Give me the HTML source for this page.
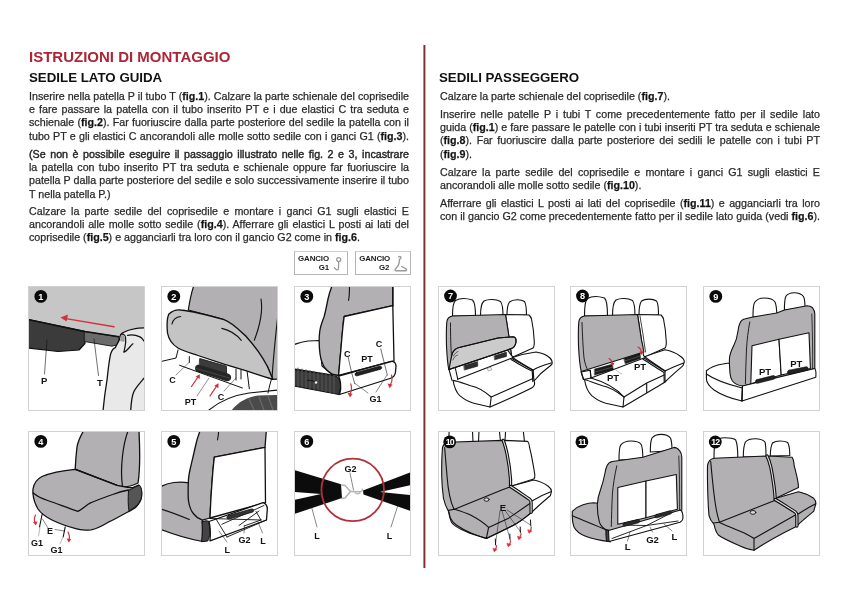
<!DOCTYPE html>
<html><head><meta charset="utf-8">
<style>
*{margin:0;padding:0;box-sizing:border-box}
html,body{width:848px;height:600px;background:#fff;overflow:hidden}
body{position:relative;font-family:"Liberation Sans",sans-serif;color:#333}
.h1{position:absolute;left:29px;top:49.2px;font-size:15px;line-height:15px;font-weight:bold;color:#ac2636;white-space:nowrap}
.h2{position:absolute;font-size:13.3px;line-height:13.3px;font-weight:bold;color:#111;white-space:nowrap}
.p{position:absolute;font-size:10.7px;line-height:13.2px;color:#2a2a2a}
.p div{text-align:justify;text-align-last:justify;white-space:nowrap}
.p div.l{text-align-last:left}
.p b{color:#111}
.vr{position:absolute;left:424px;top:45px;width:1px;height:523px;background:#7c2e33;box-shadow:-1px 0 0 #b08a86,1px 0 0 #e7a3aa}
.pan{position:absolute;width:117px;height:125px;border:1px solid #d2d2d2;overflow:hidden;background:#fff}
.pan svg{position:absolute;left:-1px;top:-1px;width:117px;height:125px}
.g{position:absolute;top:251px;height:24px;border:1px solid #b5b5b5;border-top:1.6px solid #cfcfcf;font-size:7.9px;line-height:8px;font-weight:bold;color:#1a1a1a}
.p,.h1,.h2,.pan,.g{will-change:transform}
.p{-webkit-text-stroke:0.25px #2a2a2a}
</style></head><body>
<div class="h1">ISTRUZIONI DI MONTAGGIO</div>
<div class="h2" style="left:29px;top:71.1px">SEDILE LATO GUIDA</div>
<div class="h2" style="left:439.2px;top:71.1px">SEDILI PASSEGGERO</div>

<div class="p" style="left:29px;top:89.7px;width:380px">
<div>Inserire nella patella P il tubo T (<b>fig.1</b>). Calzare la parte schienale del coprisedile</div>
<div>e fare passare la patella con il tubo inserito PT e i due elastici C tra seduta e</div>
<div>schienale (<b>fig.2</b>). Far fuoriuscire dalla parte posteriore del sedile la patella con il</div>
<div>tubo PT e gli elastici C ancorandoli alle molle sotto sedile con i ganci G1 (<b>fig.3</b>).</div>
</div>
<div class="p" style="left:29px;top:147.7px;width:380px">
<div style="-webkit-text-stroke:0.4px #222">(Se non è possibile eseguire il passaggio illustrato nelle fig. 2 e 3, incastrare</div>
<div>la patella con tubo inserito PT tra seduta e schienale oppure far fuoriuscire la</div>
<div>patella P dalla parte posteriore del sedile e solo successivamente inserire il tubo</div>
<div class="l">T nella patella P.)</div>
</div>
<div class="p" style="left:29px;top:205.1px;width:380px">
<div>Calzare la parte sedile del coprisedile e montare i ganci G1 sugli elastici E</div>
<div>ancorandoli alle molle sotto sedile (<b>fig.4</b>). Afferrare gli elastici L posti ai lati del</div>
<div class="l">coprisedile (<b>fig.5</b>) e agganciarli tra loro con il gancio G2 come in <b>fig.6</b>.</div>
</div>

<div class="p" style="left:439.5px;top:90px;width:380px">
<div class="l">Calzare la parte schienale del coprisedile (<b>fig.7</b>).</div>
</div>
<div class="p" style="left:439.5px;top:107.7px;width:380px">
<div>Inserire nelle patelle P i tubi T come precedentemente fatto per il sedile lato</div>
<div>guida (<b>fig.1</b>) e fare passare le patelle con i tubi inseriti PT tra seduta e schienale</div>
<div>(<b>fig.8</b>). Far fuoriuscire dalla parte posteriore dei sedili le patelle con i tubi PT</div>
<div class="l">(<b>fig.9</b>).</div>
</div>
<div class="p" style="left:439.5px;top:165.5px;width:380px">
<div>Calzare la parte sedile del coprisedile e montare i ganci G1 sugli elastici E</div>
<div class="l">ancorandoli alle molle sotto sedile (<b>fig.10</b>).</div>
</div>
<div class="p" style="left:439.5px;top:196.5px;width:380px">
<div>Afferrare gli elastici L posti ai lati del coprisedile (<b>fig.11</b>) e agganciarli tra loro</div>
<div>con il gancio G2 come precedentemente fatto per il sedile lato guida (vedi <b>fig.6</b>).</div>
</div>

<div class="vr"></div>

<div class="g" style="left:294px;width:54px">
<span style="position:absolute;left:3px;top:2.5px;letter-spacing:-0.1px">GANCIO</span>
<span style="position:absolute;right:17.8px;top:12.4px">G1</span>
<svg style="position:absolute;left:0;top:0" width="54" height="24" viewBox="0 0 54 24"><g transform="translate(-0.9,-0.6)" fill="none" stroke="#9a9a9a" stroke-width="1.3" stroke-linecap="round"><circle cx="44.6" cy="8.2" r="2"/><path d="M44.6,10.2 L44.4,17.2 C44.2,18.5 43,18.8 42,18 L40.3,16.4"/></g></svg>
</div>
<div class="g" style="left:355px;width:56px">
<span style="position:absolute;left:3.2px;top:2.5px;letter-spacing:-0.1px">GANCIO</span>
<span style="position:absolute;right:20.5px;top:12.4px">G2</span>
<svg style="position:absolute;left:0;top:0" width="56" height="24" viewBox="0 0 56 24"><g transform="translate(-0.5,-0.6)" fill="none" stroke="#9a9a9a" stroke-width="1.4" stroke-linecap="round" stroke-linejoin="round"><path d="M43.2,5.5 C44.5,4.6 45.6,5.2 45.5,6.6 L44,8 L43.5,12 C43.2,14 42,15.5 40,17.5 C39,18.5 39.5,19.4 40.8,19.4 L50,19.4 C51.2,19.2 51.3,18.2 50.4,17.4 C49,16.4 47.5,15.6 46.2,15.2"/></g></svg>
</div>

<div class="pan" id="p1" style="left:28px;top:286px"><svg viewBox="0 0 117 125"><g stroke-linejoin="round" stroke-linecap="round">
<path d="M0,0H117V41.8L106,42.8 L95.8,46.3 L92.7,48.6 L91,50.8 L57,45.6 L0,33.5Z" fill="#c6c6c6"/>
<path d="M0,62 L30,65.5 L51,64 L57,57.5 L57,45.6 L0,33.5Z" fill="#3b3b3b" stroke="#111" stroke-width="1.2"/>
<path d="M56.5,45.6 L91,50.8 L90,58.5 L84,60.2 L56.5,55.5Z" fill="#6b6b6b" stroke="#222" stroke-width="1"/>
<path d="M0,33.5 L57,45.6 L91,50.8" stroke="#111" stroke-width="1.5" fill="none"/>
<path d="M86,40.8 L38,32.6" stroke="#d4303c" stroke-width="1.4"/>
<path d="M32.5,31.5 L40,28.6 L38.6,35.4Z" fill="#d4303c"/>
<path d="M75,125 C76,114 77.5,103 79,94 C80,86 80.5,78 82.7,67.7 C84,64 86,62 87.3,61.6 C89,58 90.5,56 91.2,54 C92,51 92.2,49.5 92.7,48.6 C94,47 95,46.5 95.8,46.3 C99,44.5 102,43.5 106,42.8 C110,42 114,41.8 118,41.8 V125Z" fill="#e9e9e9" stroke="#111" stroke-width="1.3"/>
<path d="M92.7,48.6 C95,47.5 97,48.5 97.5,51 C98,54 97.8,58 96.8,62 C96.4,64 96,65.5 95.8,66.2 C98,65.5 101,62 102.7,60 C103.6,58.8 104.5,58 105,57.8" fill="none" stroke="#111" stroke-width="1.2"/>
<path d="M93,48.8 C95,48.2 96.6,49.5 96.8,52 L96.5,56 L92,55 Z" fill="#a0a0a0"/>
<path d="M99.6,49.3 C104,48.5 109,49.5 112,50.9 C114,52 115.5,54 117.5,57" fill="none" stroke="#111" stroke-width="1.2"/>
<path d="M117.5,90.5 C113,96 108,101 105.7,106 C104,110 103.2,116 102.7,125" fill="none" stroke="#111" stroke-width="1.3"/>
<path d="M19,54 L16.5,88" stroke="#111" stroke-width="0.6"/>
<path d="M66,53 L70.5,89.5" stroke="#111" stroke-width="0.6"/>
</g>
<text x="16.2" y="97.6" text-anchor="middle" font-size="9.5" font-weight="bold" fill="#111" font-family="Liberation Sans">P</text>
<text x="72" y="99.6" text-anchor="middle" font-size="9.5" font-weight="bold" fill="#111" font-family="Liberation Sans">T</text>
<circle cx="12.8" cy="10.4" r="6.4" fill="#0a0a0a"/><text x="12.8" y="13.7" text-anchor="middle" font-size="9.2" font-weight="bold" fill="#fff" font-family="Liberation Sans" letter-spacing="0">1</text>
</svg></div>
<div class="pan" id="p2" style="left:161px;top:286px"><svg viewBox="0 0 117 125"><g stroke-linejoin="round" stroke-linecap="round">
<path d="M32.7,0 C30,8 28.5,16 27.3,24 L63,33.7 L84.7,50 L106.3,80.3 L111.8,93.3 L117,93 V0Z" fill="#b2b0b2" stroke="#111" stroke-width="1.2"/>
<path d="M100,13 C102,25 98,42 93.3,54.3" fill="none" stroke="#111" stroke-width="1.1"/>
<path d="M117,28 C114,55 112,75 111,93" fill="none" stroke="#111" stroke-width="1.1"/>
<path d="M7.7,28.3 C12,24 16,23.5 19.7,24 C30,25 40,27 63,33.7 C70,36 76,42 84.7,50 C92,58 100,68 106.3,80.3 L111.8,93.3 C105,91.5 99,89.5 84.7,84.7 L63,78.2 L37,69.5 C28,66.5 22,65 17,62 C12,59 8,55 6.5,47 C5.8,40 5.8,33 7.7,28.3Z" fill="#c4c4c4" stroke="#111" stroke-width="1.3"/>
<path d="M11,38 C12,33 15,31 19.7,30.5" fill="none" stroke="#111" stroke-width="1.1"/>
<path d="M60.8,42.4 C68,44 75,48 80.3,54.3" fill="none" stroke="#111" stroke-width="1.1"/>
<path d="M0,75.5 L15,72 L17,64" fill="none" stroke="#111" stroke-width="1"/>
<path d="M39,72.6 L65.4,80.2 L65.6,88 L38.5,80.5Z" fill="#3c3c3c" stroke="#111" stroke-width="0.8"/>
<path d="M34.5,80.5 C35,79 37,78.6 39,79 L67,87.5 C70,88.5 70.6,90.5 70,92.8 C69.3,95 67,95.8 64.5,95 L36,85.6 C34,85 33.6,82.5 34.5,80.5Z" fill="#262626"/>
<path d="M35.5,82.6 L69,92.2" stroke="#555" stroke-width="0.7"/>
<path d="M18.6,79.3 L81.4,102" stroke="#111" stroke-width="1"/>
<path d="M28.3,70.5 L28.3,76.5 M75,83 L75,94 M80,84 L80,93" stroke="#111" stroke-width="1"/>
<path d="M70,125 C77,116 86,111 97,109.5 L117,109 V125Z" fill="#4a4a4a"/>
<path d="M88,113 L93,124 M98,111 L103,124 M107,110 L112,124" stroke="#6a6a6a" stroke-width="1.2"/>
<path d="M48,124 C60,114 74,109 88,107 L117,104" fill="none" stroke="#111" stroke-width="1.1"/>
<path d="M86.2,86 L88.3,102.7 M110.5,93 C109,98 108,102 107,107" fill="none" stroke="#111" stroke-width="1"/>
<path d="M30.5,100.5 L37,91" stroke="#d4303c" stroke-width="1.3"/>
<path d="M38.8,88.2 L34.6,90.6 L38.8,93Z" fill="#d4303c"/>
<path d="M49,110 L55.6,100" stroke="#d4303c" stroke-width="1.3"/>
<path d="M57.6,97.3 L53.2,99.8 L57.4,102.2Z" fill="#d4303c"/>
<path d="M15,89 L28,76.5 M36,110 L48,92 M63,105 L75,92" stroke="#222" stroke-width="0.5"/>
</g>
<text x="11.5" y="96.5" text-anchor="middle" font-size="9" font-weight="bold" fill="#111" font-family="Liberation Sans">C</text>
<text x="29.5" y="118.5" text-anchor="middle" font-size="9" font-weight="bold" fill="#111" font-family="Liberation Sans">PT</text>
<text x="60" y="114" text-anchor="middle" font-size="9" font-weight="bold" fill="#111" font-family="Liberation Sans">C</text>
<circle cx="12.8" cy="10.4" r="6.4" fill="#0a0a0a"/><text x="12.8" y="13.7" text-anchor="middle" font-size="9.2" font-weight="bold" fill="#fff" font-family="Liberation Sans" letter-spacing="0">2</text>
</svg></div>
<div class="pan" id="p3" style="left:294px;top:286px"><svg viewBox="0 0 117 125"><g stroke-linejoin="round" stroke-linecap="round">
<path d="M0,58.7 C5,56.5 9,55.5 14,55 L25.5,54.5 L28,80 L39,89 L0,83Z" fill="#fff" stroke="#111" stroke-width="1.2"/>
<path d="M38,0 C36,5 34.8,9 34,13 C32.5,20 31.5,26 30,31 C28,36 26.5,40 25.8,45 C24.8,52 25,60 26,68 C27,75 29,79 31,82 C34,85.5 36.5,87.5 39.5,88.5 L44.6,89.5 C45.5,80 46,72 46.8,65 C47.6,55 48.5,45 49,40 C49.3,35 49.8,32 50.2,30.5 L98.8,19.7 V0Z" fill="#b2b0b2" stroke="#111" stroke-width="1.3"/>
<path d="M55.4,0 C55.6,5 55.3,10 54.6,14.5" fill="none" stroke="#111" stroke-width="1.1"/>
<path d="M50.2,30.5 L98.8,19.7 C99.2,38 99.6,56 100,75 L44.6,89.5 C45.5,80 46,72 46.8,65 C47.6,55 48.5,45 49,40Z" fill="#fff" stroke="#111" stroke-width="1.3"/>
<path d="M98.8,0 L98.8,20" stroke="#111" stroke-width="1.3"/>
<path d="M0,83.5 L39,89.5 C43,89.5 45.5,92 46.5,97 C47.2,101 46.5,105 45,108.5 L0,100Z" fill="#3a3a3a" stroke="#111" stroke-width="1.2"/>
<path d="M4,82 L4,100.5 M8,83 L8,101.3 M12,83.8 L12,102 M16,84.6 L16,102.8 M20,85.4 L20,103.5 M24,86.2 L24,104.3 M28,87 L28,105 M32,87.8 L32,105.8 M36,88.5 L36,106.5 M40,89.3 L40,107.3" stroke="#555" stroke-width="1.1"/>
<path d="M13.5,94.5 C16,94 18.5,94.5 21,96" fill="none" stroke="#111" stroke-width="1"/><circle cx="22" cy="96.5" r="1.3" fill="#eee"/>
<path d="M44.6,90 L97,75.5 C100,75 102,77 102,80 L101.5,86 C101.2,89 99,91.5 96,92.5 L45.5,108.5 C46.5,105 47.2,101 46.5,97 C46.2,94 45.5,92 44.6,90Z" fill="#fff" stroke="#111" stroke-width="1.3"/>
<path d="M62.5,86.5 L85.5,80.3 C88,79.8 88.5,82.5 86.5,83.2 L63,89.8 C60.8,90.3 60.3,87 62.5,86.5Z" fill="#222" stroke="#111" stroke-width="0.8"/>
<path d="M54.3,71.5 C56,80 58,89 60.8,97.7 M86.8,63 C89,72 91,80 93.3,89" fill="none" stroke="#111" stroke-width="0.6"/>
<path d="M61,97.5 L74,107 M93,89 L82,106" stroke="#111" stroke-width="0.5"/>
<path d="M56.8,97.8 C58,102 57.8,105 56,108" fill="none" stroke="#d4303c" stroke-width="1.2"/>
<path d="M53.5,106.8 L56,111.5 L58.6,107.8Z" fill="#d4303c"/>
<path d="M97.5,89 C98.5,93 98,96.5 96,99" fill="none" stroke="#d4303c" stroke-width="1.2"/>
<path d="M93.5,97.6 L95.6,102.2 L98.6,98.6Z" fill="#d4303c"/>
</g>
<text x="53.3" y="70.5" text-anchor="middle" font-size="9" font-weight="bold" fill="#111" font-family="Liberation Sans">C</text>
<text x="85" y="61" text-anchor="middle" font-size="9" font-weight="bold" fill="#111" font-family="Liberation Sans">C</text>
<text x="73" y="76.3" text-anchor="middle" font-size="9" font-weight="bold" fill="#111" font-family="Liberation Sans">PT</text>
<text x="81.5" y="115.5" text-anchor="middle" font-size="9" font-weight="bold" fill="#111" font-family="Liberation Sans">G1</text>
<circle cx="12.8" cy="10.4" r="6.4" fill="#0a0a0a"/><text x="12.8" y="13.7" text-anchor="middle" font-size="9.2" font-weight="bold" fill="#fff" font-family="Liberation Sans" letter-spacing="0">3</text>
</svg></div>
<div class="pan" id="p4" style="left:28px;top:431px"><svg viewBox="0 0 117 125"><g stroke-linejoin="round" stroke-linecap="round">
<path d="M55.4,0 C52,6 50,10 49,16 C48,24 47.5,32 47.2,38 L89,54.3 L94.5,56 C100,56 106,54 110,52 C112,40 112,20 111,0Z" fill="#b2b0b2" stroke="#111" stroke-width="1.3"/>
<path d="M100,0 C97,8 95.5,16 94.5,25 C93.5,34 93,45 94.4,54.5" fill="none" stroke="#111" stroke-width="1.2"/>
<path d="M5,58 C6,52 9,48 14,45.5 C22,42 34,39.5 47.2,38.3 L89,54.3 L98,56 C102,56.5 104,57.5 106,56 L110.5,54 C113,56 114,60 113.5,66 C113,70 111,73 108,76 C104,79.5 99,81 93.3,84.5 C87,88 83,90 80.3,91.2 C74,95 68,98 63,98.8 C56,99.5 50,98.5 47.8,97.7 C38,95 30,92 24,89 C18,86 13,82.5 10,78 C7,73 5.5,68 5,63 C4.8,61 4.8,59.5 5,58Z" fill="#b2b0b2" stroke="#111" stroke-width="1.3"/>
<path d="M5.3,62 C10,66 15,68 19.7,69.5 C30,73 40,77 50,80.3 C55,78 58,74 63,71.7 C72,68 78,65.5 84.7,63.5 C90,61.5 95,60 100.5,59" fill="none" stroke="#111" stroke-width="1.3"/>
<path d="M47.5,38.5 L89,54.3" stroke="#111" stroke-width="1.2"/>
<path d="M100.5,59.5 C104,57.5 108,55.5 111.5,54.3 C114,57 114.5,63 113,68 C111,73 106,77 101,80 C100,74 100,68 100.5,59.5Z" fill="#555" stroke="#111" stroke-width="1"/>
<path d="M14.3,82.5 L11.5,96 M37.2,95.8 L35.2,106" stroke="#111" stroke-width="1.1"/>
<path d="M12,96 L10.5,105 M35,106 L32,113" stroke="#999" stroke-width="0.7"/>
<path d="M14.5,88 L20,97 M36.5,100 L27,98.5" stroke="#111" stroke-width="0.5"/>
<path d="M7.5,84 C6,87 6,90 7.5,92" fill="none" stroke="#d4303c" stroke-width="1.2"/>
<path d="M5,91 L7.8,94.5 L9.6,90.6Z" fill="#d4303c"/>
<path d="M40,101 C41.5,104 41.8,106.5 41,108.5" fill="none" stroke="#d4303c" stroke-width="1.2"/>
<path d="M38.6,107.6 L40.8,111.6 L43.3,108.2Z" fill="#d4303c"/>
</g>
<text x="22" y="103" text-anchor="middle" font-size="9" font-weight="bold" fill="#111" font-family="Liberation Sans">E</text>
<text x="9" y="115" text-anchor="middle" font-size="9" font-weight="bold" fill="#111" font-family="Liberation Sans">G1</text>
<text x="28.5" y="121.5" text-anchor="middle" font-size="9" font-weight="bold" fill="#111" font-family="Liberation Sans">G1</text>
<circle cx="12.8" cy="10.4" r="6.4" fill="#0a0a0a"/><text x="12.8" y="13.7" text-anchor="middle" font-size="9.2" font-weight="bold" fill="#fff" font-family="Liberation Sans" letter-spacing="0">4</text>
</svg></div>
<div class="pan" id="p5" style="left:161px;top:431px"><svg viewBox="0 0 117 125"><g stroke-linejoin="round" stroke-linecap="round">
<path d="M0,55.5 C4,53.5 8,52.2 13,51.5 C18,51 23,51 28,51.8 L28,70 L41.5,89 L41.5,110.5 C28,108 14,104 0,98.5Z" fill="#b2b0b2" stroke="#111" stroke-width="1.2"/>
<path d="M0,78 C10,81 20,85 28.3,88.5" fill="none" stroke="#111" stroke-width="1.2"/>
<path d="M39,0 C37,5 35.5,10 34.5,15 C33,22 31,30 29.4,37 C28,43 27.3,48 27.3,52 C27,60 27,66 27.5,70 C28.5,76 30,80 32.7,83 C35,86 38,88 41.3,89.2 L49,87 C49.5,75 50.2,62 51,52 C51.6,42 52.5,33 53.3,26.2 L104,16.4 L105.3,0Z" fill="#b2b0b2" stroke="#111" stroke-width="1.3"/>
<path d="M57.6,0 C57.5,3 57.2,6 56.5,9" fill="none" stroke="#111" stroke-width="1.1"/>
<path d="M53.3,26.2 L104,16.4 L104.5,71.7 L49,87 C49.5,75 50.2,62 51,52 C51.6,42 52.5,33 53.3,26.2Z" fill="#fff" stroke="#111" stroke-width="1.3"/>
<path d="M41,91 C44,89.5 46.5,89.5 48,90.5 L49,102 C48.5,105.5 47.5,108 46.8,110 L40.5,110.7 C41.5,104 41.5,97 41,91Z" fill="#444" stroke="#111" stroke-width="1"/>
<path d="M48,90.5 L102,71.7 C104.5,72.5 106.3,75 106.3,78.2 L105.5,89 L49,109.8 C49.5,104 49.5,96 48,90.5Z" fill="#fff" stroke="#111" stroke-width="1.3"/>
<path d="M49,87.5 L100,89 M60.8,93.3 L103,74.5 M55,88 L66,106 M66,106 L105.5,89 M78,94.5 L98,80 M83,95 L100,89 M95,80.5 L100,89" stroke="#111" stroke-width="0.9" fill="none"/>
<path d="M67.5,84.5 L90.5,78 C93,77.5 93.5,80.5 91.2,81.2 L68,88 C65.5,88.5 65,85 67.5,84.5Z" fill="#333" stroke="#111" stroke-width="0.8"/>
<path d="M58,100 L66,111 M83.5,95 L83,102 M97,91 L101.5,102" stroke="#111" stroke-width="0.5"/>
</g>
<text x="66.3" y="121.5" text-anchor="middle" font-size="9" font-weight="bold" fill="#111" font-family="Liberation Sans">L</text>
<text x="83.6" y="111.8" text-anchor="middle" font-size="9" font-weight="bold" fill="#111" font-family="Liberation Sans">G2</text>
<text x="102" y="112.8" text-anchor="middle" font-size="9" font-weight="bold" fill="#111" font-family="Liberation Sans">L</text>
<circle cx="12.8" cy="10.4" r="6.4" fill="#0a0a0a"/><text x="12.8" y="13.7" text-anchor="middle" font-size="9.2" font-weight="bold" fill="#fff" font-family="Liberation Sans" letter-spacing="0">5</text>
</svg></div>
<div class="pan" id="p6" style="left:294px;top:431px"><svg viewBox="0 0 117 125"><g stroke-linejoin="round" stroke-linecap="round">
<path d="M0,39 L47,53.3 L48,67 L0,83 L0,69 L27,63 L0,61Z" fill="#0c0c0c"/>
<path d="M117,41 L117,54 L86,61 L117,64 L117,80 L69.5,63.5 L69,59.5Z" fill="#0c0c0c"/>
<circle cx="58.7" cy="58.9" r="31.3" fill="none" stroke="#b3303a" stroke-width="1.8"/>
<path d="M47.5,54 L51,54.5 L56.5,60.5 L51,67 L47.5,67.5" fill="none" stroke="#b4b4b4" stroke-width="1.6"/>
<path d="M56.5,60.5 L66,60.8" stroke="#b4b4b4" stroke-width="1.4"/>
<path d="M66,61 C68,60 69,59 68.5,58" fill="none" stroke="#b4b4b4" stroke-width="1.3"/>
<path d="M61,61.8 C63,63.5 64.5,63 66,62" fill="none" stroke="#b4b4b4" stroke-width="1.3"/>
<path d="M56,42 L59.5,59" stroke="#111" stroke-width="0.5"/>
<path d="M17,74 L23,96 M104,74 L97,96" stroke="#111" stroke-width="0.5"/>
</g>
<text x="56.5" y="41" text-anchor="middle" font-size="9" font-weight="bold" fill="#111" font-family="Liberation Sans">G2</text>
<text x="23" y="108" text-anchor="middle" font-size="9" font-weight="bold" fill="#111" font-family="Liberation Sans">L</text>
<text x="95.5" y="108" text-anchor="middle" font-size="9" font-weight="bold" fill="#111" font-family="Liberation Sans">L</text>
<circle cx="12.8" cy="10.4" r="6.4" fill="#0a0a0a"/><text x="12.8" y="13.7" text-anchor="middle" font-size="9.2" font-weight="bold" fill="#fff" font-family="Liberation Sans" letter-spacing="0">6</text>
</svg></div>
<div class="pan" id="p7" style="left:438px;top:286px"><svg viewBox="0 0 117 125"><g stroke-linejoin="round" stroke-linecap="round" stroke="#111" stroke-width="1.1">
<path d="M14.5,30 C14.5,22 15.5,16 17.5,14.5 C21,12.5 28,12 34.5,14 C36.5,16 37.5,22 37.5,30Z" fill="#fff"/>
<path d="M42.5,30 C42.5,22 43.5,17 46,15 C50,13 58,13 62.5,15.5 C64.5,18 65,23 65,30Z" fill="#fff"/>
<path d="M69,29 C69,22 70,18 71.5,16 C75,13 83,13 86.5,15.5 C88,18 88.5,23 88.5,29Z" fill="#fff"/>
<path d="M67.5,28.5 L91,29 C92,30 93,31 93.5,33 C95,40 96,48 96.3,56 C96.3,59 96,61 95,62 L75,71 L73.5,69.5 C72,60 70.5,45 67.5,28.5Z" fill="#fff"/>
<path d="M74.5,71.5 C82,69 90,67 98,66 C104,67 109,69 112,72 C114,74 114.5,76 114,78 L112,80 C105,85 100,90 96,95 L95,84 C88,80 81,76 74.5,71.5Z" fill="#fff"/>
<path d="M74,72.5 C82,77 88,81 95,84 C100,81 106,79 113,77" fill="none"/>
<path d="M73,73.5 C81,78 87,82 94.2,85 L94.8,95.5" fill="none"/>
<path d="M10.8,83.5 C10,80 9,70 8.5,60 C8.2,50 8.3,42 8.8,36 C9.2,32 11.5,30.5 14.5,30 L67.5,28.5 C69,38 70.3,46 71.5,54 L73.5,69.5 L69.4,64 Z" fill="#b2b0b2"/>
<path d="M12.5,37 C12.5,50 12.8,60 13.3,67 C13.5,72 13,78 12,83" fill="none" stroke-width="0.9"/>
<path d="M11,83.5 C12,78 13,72 14.7,66.5 C16.5,63.5 19,62 21.3,61.5 L60,52 L75,50.8 C77.5,51 78.3,53 78,56 C77.5,59 76.5,61 74.5,62 L69.4,64 Z" fill="#cbcbcb"/>
<path d="M14.7,66.5 C16.5,63.5 19,62 21.3,61.5 L60,52 L75,50.8 C77.5,51 78.3,53 78,56 C77.5,59 76.5,61 74.5,62 L69.4,64 L10.8,83.5" fill="none"/>
<path d="M15.5,70 C17,67 18.5,66 20,65.5 M14.8,74 C16,71 18,69.5 19.5,69" fill="none" stroke-width="0.6"/>
<path d="M26,79.5 L39.6,75.5 L39.8,80.2 L26.6,84Z" fill="#2e2e2e" stroke-width="0.5"/>
<path d="M56.4,69.8 L68.4,66 L68.6,70.4 L56.8,73.8Z" fill="#2e2e2e" stroke-width="0.5"/>
<path d="M11,83.5 L14,94.4 M17.4,82.5 L19.8,93.3" fill="none"/>
<path d="M19.5,93.3 L74,72" fill="none"/>
<path d="M15,94.4 C16,100 18,106 21.7,109.6 C27,114 31,116 35.8,117.2 L52,121 L53.2,111 C46,105 40,101 32.5,99.8 C27,98 20,95 15,94.4Z" fill="#fff"/>
<path d="M53.2,111 L95,92.5 L95,84 M52,121 C66,115 80,109 94.5,101.5 C97,99.5 97,96.5 96,95" fill="none"/>
<path d="M49.8,82 L53,81.5 L53.5,84 L50.5,84.8Z" fill="none" stroke-width="0.6" stroke="#777"/>
</g>
<circle cx="12.5" cy="10.0" r="6.4" fill="#0a0a0a"/><text x="12.5" y="13.3" text-anchor="middle" font-size="9.2" font-weight="bold" fill="#fff" font-family="Liberation Sans" letter-spacing="0">7</text>
</svg></div>
<div class="pan" id="p8" style="left:570px;top:286px"><svg viewBox="0 0 117 125"><g stroke-linejoin="round" stroke-linecap="round" stroke="#111" stroke-width="1.1">
<path d="M14.5,30 C14.5,20 15.5,14 17.5,12.5 C21,10.5 28,10 34.5,12 C36.5,14 37.5,20 37.5,30Z" fill="#fff"/>
<path d="M42.5,30 C42.5,22 43.5,16 46,14 C50,12 58,12 62.5,14.5 C64.5,17 65,23 65,30Z" fill="#fff"/>
<path d="M69,29 C69,22 70,17 71.5,15 C75,12.5 83,12.5 86.5,15 C88,17 88.5,23 88.5,29Z" fill="#fff"/>
<path d="M67.5,28.5 L91,29 C92,30 93,31 93.5,33 C95,40 96,48 96.3,56 C96.3,59 96,61 95,62 L75,71 L73.5,69.5 C72,60 70.5,45 67.5,28.5Z" fill="#fff"/>
<path d="M70,30 C72,42 74,54 75.5,66" fill="none" stroke-width="0.8"/>
<path d="M11.2,85.5 C10,80 9,70 8.5,60 C8.2,50 8.3,42 8.8,36 C9.2,32 11.5,30.5 14.5,30 L67.5,28.5 C69,38 70.3,46 71.5,54 C72.5,58 73.3,62 73.8,66 L11.2,85.5 Z" fill="#b2b0b2"/>
<path d="M12,36.5 C12.5,50 13,62 14,72 C15,78 16.5,82 18,84.5" fill="none" stroke-width="0.9"/>
<path d="M11.2,86 L20.2,84.2 L21,92 L13.5,93.5Z" fill="#fff"/>
<path d="M24.7,83 L42,78.3 L43.5,83.7 L24.7,89Z" fill="#1a1a1a" stroke-width="0.5"/>
<path d="M25,86 L43,81" stroke="#555" stroke-width="0.8"/>
<path d="M54,72.5 L70,67.3 L70.5,72.5 L55.5,77.7Z" fill="#1a1a1a" stroke-width="0.5"/>
<path d="M54.5,75 L70.3,70" stroke="#555" stroke-width="0.8"/>
<path d="M11.2,86 L13.5,93.5 M20.2,84.2 L21,92" fill="none"/>
<path d="M21,92 L74,72" fill="none"/>
<path d="M74.6,70.7 C82,68 88,66 95,63.8 C101,65 106,67 110,70 C113,72 114.5,74 114.3,76 L113,79.6 C107,85 101,90 95,96 L95,85 C88,80 81,75.5 74.6,70.7Z" fill="#fff"/>
<path d="M74,72 C82,77 88,81 95,85 M73,73.3 C81,78 87,82.5 94,86.5 L94.2,96.5" fill="none"/>
<path d="M95,85 C101,82 107,79.5 113.5,77" fill="none"/>
<path d="M14.5,93.5 C15.5,100 18,106 21.7,109.6 C27,114 31,116 35.8,117.2 L53,121 L54,111 C46,105 40,101 32.5,99.8 C27,98 20,95 14.5,93.5Z" fill="#fff"/>
<path d="M54,111 L76.7,97 L94.2,89 M53,121 L76.7,107 L76.7,97 M76.7,107 C83,103 89,100 95,96" fill="none"/>
<path d="M21,92 C35,96 47,103 54,111" fill="none"/>
<path d="M43,78.2 C43,81 43.8,82.5 44.5,83" fill="none" stroke="#fff" stroke-width="0.1"/>
<path d="M39,72.5 C41,73.5 42.3,75.5 42.5,78" fill="none" stroke="#d4303c" stroke-width="1.1"/>
<path d="M40.4,77 L42.6,80.6 L44.6,76.8Z" fill="#d4303c" stroke="none"/>
<path d="M68,61 C70,62 71.3,64 71.5,66.5" fill="none" stroke="#d4303c" stroke-width="1.1"/>
<path d="M69.4,65.5 L71.6,69 L73.6,65.3Z" fill="#d4303c" stroke="none"/>
<path d="M46,84 C48,86 50,87.5 52,88" fill="none" stroke-width="0.5" stroke="#888"/>
</g>
<text x="43" y="95.2" text-anchor="middle" font-size="9.5" font-weight="bold" fill="#111" font-family="Liberation Sans">PT</text>
<text x="70" y="84" text-anchor="middle" font-size="9.5" font-weight="bold" fill="#111" font-family="Liberation Sans">PT</text>
<circle cx="12.5" cy="10.0" r="6.4" fill="#0a0a0a"/><text x="12.5" y="13.3" text-anchor="middle" font-size="9.2" font-weight="bold" fill="#fff" font-family="Liberation Sans" letter-spacing="0">8</text>
</svg></div>
<div class="pan" id="p9" style="left:703px;top:286px"><svg viewBox="0 0 117 125"><g stroke-linejoin="round" stroke-linecap="round" stroke="#111" stroke-width="1.1">
<path d="M50,31 C50,24 50.3,19 51.5,16.5 C54,13 58,12 61,12 C66,12 70.5,13.5 72,16 C73.3,19 73.8,24 73.8,30Z" fill="#fff"/>
<path d="M81.4,24 C81.4,17 81.7,12.5 83,10 C85,7.5 88,6.7 91.2,6.7 C95,6.7 98.5,7.8 100.5,10.5 C101.7,13 102,17 102,22Z" fill="#fff"/>
<path d="M3.4,84.7 C8,81 14,79 19.7,78 C23,77.3 26,77 28.5,77 L39.5,100 L39,115 C30,113 20,110 11,104 C6,100 3.5,96 3.4,93 Z" fill="#fff"/>
<path d="M3.4,88 C12,94 25,98.5 39.3,102" fill="none"/>
<path d="M37,37 C38,34.5 40,33 42.4,32.7 L50,31 L73.8,27 L81.4,24 L104,19.7 C106,19.7 108,20.5 109.6,21.8 C111,23.5 111.8,26 111.8,28.3 L111.8,82.5 L39.5,100 C36,99.5 32,98 29.5,95 C27.5,92 27,89 26.8,84.7 C26.5,80 26.2,76 26.5,71.7 C27,67 29,63 31,59 C33,55 34.3,50 35,45 C35.5,41 36,39 37,37Z" fill="#b2b0b2"/>
<path d="M46.8,36 C45,45 44,55 43.5,63 C43,75 42.6,86 42.4,97.7" fill="none" stroke-width="0.9"/>
<path d="M49,59.8 L76,53.3 L78.2,89 L47.8,97.7Z" fill="#fff"/>
<path d="M76,53.3 L106,46.8 L107.4,82.5 L78.2,89Z" fill="#fff"/>
<path d="M108.8,28 C109.5,45 109.8,65 109.6,83" fill="none" stroke-width="0.8"/>
<path d="M39.5,100 L111.8,82.5 C113,84 113.2,87 112.8,91.2 L39,115 Z" fill="#fff"/>
<path d="M39.4,101 L39,115" fill="none"/>
<path d="M54,93.6 L70,89.6 C72.5,89.1 73,92.6 70.5,93.3 L54.5,97.3 C52,97.8 51.5,94.3 54,93.6Z" fill="#222" stroke-width="0.6"/>
<path d="M86,84.2 L103,80.8 C105.5,80.3 106,83.8 103.5,84.3 L86.5,88 C84,88.5 83.5,84.8 86,84.2Z" fill="#222" stroke-width="0.6"/>
</g>
<text x="62" y="89.3" text-anchor="middle" font-size="9.5" font-weight="bold" fill="#111" font-family="Liberation Sans">PT</text>
<text x="93.3" y="80.5" text-anchor="middle" font-size="9.5" font-weight="bold" fill="#111" font-family="Liberation Sans">PT</text>
<circle cx="12.8" cy="10.4" r="6.4" fill="#0a0a0a"/><text x="12.8" y="13.7" text-anchor="middle" font-size="9.2" font-weight="bold" fill="#fff" font-family="Liberation Sans" letter-spacing="0">9</text>
</svg></div>
<div class="pan" id="p10" style="left:438px;top:431px"><svg viewBox="0 0 117 125"><g stroke-linejoin="round" stroke-linecap="round" stroke="#111" stroke-width="1.1">
<path d="M11.2,0 L10.5,11 M34.5,0 L35,11 M41,0 L40.5,11 M61.4,0 L62.4,9.5 M67.6,0 L67,9.5 M85.3,0 L86.4,10" fill="none"/>
<path d="M66,9.4 L89.5,10.4 C90.5,11 91.3,14 91.6,16.7 C93,22 94,27 94.7,31.3 C95.7,37 96.5,41 96.8,43.8 C97,46 96.5,47.5 95.7,48 L72.8,55.2 C72.5,45 71,32 69,22 C68,16 67,12 66,9.4Z" fill="#fff"/>
<path d="M72.8,55.2 L95.7,49 C101,50 106,52 110.3,55.2 C112.5,57 113.5,59 113.5,60.4 L112.4,64.6 C106,70 100,75 93.7,81.3 L92.6,70.8 C86,66 80,61 72.8,55.2Z" fill="#fff"/>
<path d="M92.6,70.8 C100,66 106,63 113.5,60.4" fill="none"/>
<path d="M4.5,16.5 C5.5,13 7,11.5 10,11.2 L64.5,9.4 C66,13 67.5,18 68.5,22 C70,30 71.5,40 72.2,48 L72.8,56.2 C80,61 86,65.5 92.6,69.8 L93.7,81.3 C88,86 82,91 75,94.5 C68,98 58,103 48.4,107.4 C40,105 33,103 28,100.5 C22,98 17,96 14,92 C12,89 11.5,85 10.5,80.5 C8,76 6.5,72 5.5,67.5 C4.5,60 3.8,50 3.7,45 C3.6,35 3.8,25 4.5,16.5Z" fill="#b2b0b2"/>
<path d="M65.2,9.4 C66.8,13.5 68.2,19 69.2,23.5 C70.8,31.5 72,41 72.5,48 L72.6,55.5" fill="none" stroke-width="3.3"/><path d="M65.2,9.4 C66.8,13.5 68.2,19 69.2,23.5 C70.8,31.5 72,41 72.5,48 L72.6,55.5" fill="none" stroke="#e2e2e2" stroke-width="1.1"/>
<path d="M6.7,16.5 C7.5,28 8.5,38 9,45 C10,58 12,70 16,78.3" fill="none"/>
<path d="M16.5,78.3 L63.8,59 L72.5,55.8" fill="none"/>
<path d="M10.5,79.4 L16.5,78.3 C22,80 28,82 33,84.3 C40,88 46,92 50.6,96.4 M50.6,96.4 L48.4,107.4 M50.6,96.4 L70,87.6 L92.6,72" fill="none"/>
<path d="M11,81 C11.5,84 12,86 12.6,87.6 C14,90.5 16,92.5 18.7,94.2 C22,96.5 27,99.5 33,101.9 C38,104 43,106 48.4,107.4 C58,103 68,98 75,94.5 C82,91 88,86 93.7,81.3" fill="none"/>
<path d="M72.6,55.5 C80,60.2 86,64.5 91.5,68.2 C92.7,69 93.1,70 93.1,71.5 L93.1,81.2" fill="none" stroke-width="3.3"/><path d="M72.6,55.5 C80,60.2 86,64.5 91.5,68.2 C92.7,69 93.1,70 93.1,71.5 L93.1,81.2" fill="none" stroke="#e2e2e2" stroke-width="1.1"/>
<ellipse cx="48.6" cy="68.6" rx="2.6" ry="1.7" fill="#ddd" stroke-width="0.9"/>
<path d="M62,80 L57.5,113 M64,80 L71.8,107 M67,79.5 L82.2,100.5 M69,79 L92.6,94" fill="none" stroke-width="0.5"/>
<path d="M57.3,108 L57.6,114 M71.8,103 L72,108.5 M82.2,96 L82.4,101.5 M92.5,89 L92.8,95" fill="none" stroke-width="1"/>
<path d="M58.5,114.5 C58.5,116.5 58,118 57,119 M72.5,109.5 C72.5,111.5 72,113 71,114 M83,102.5 C83,104.5 82.5,106 81.5,107 M93.3,96 C93.3,98 92.8,99.5 91.8,100.5" fill="none" stroke="#d4303c" stroke-width="1.2"/>
<path d="M55,117.6 L56.2,120.8 L58.8,118.6Z M69,112.6 L70.2,115.8 L72.8,113.6Z M79.5,105.6 L80.7,108.8 L83.3,106.6Z M89.8,99.1 L91,102.3 L93.6,100.1Z" fill="#d4303c" stroke="#d4303c" stroke-width="0.6"/>
</g>
<text x="64.8" y="79.5" text-anchor="middle" font-size="9.5" font-weight="bold" fill="#111" font-family="Liberation Sans">E</text>
<text x="10" y="13.8" text-anchor="middle" font-size="7.6" font-weight="bold" fill="#fff" font-family="Liberation Sans"> </text>
<circle cx="11.7" cy="10.9" r="6.4" fill="#0a0a0a"/><text x="11.7" y="14.2" text-anchor="middle" font-size="8.8" font-weight="bold" fill="#fff" font-family="Liberation Sans" letter-spacing="-0.9">10</text>
</svg></div>
<div class="pan" id="p11" style="left:570px;top:431px"><svg viewBox="0 0 117 125"><g stroke-linejoin="round" stroke-linecap="round" stroke="#111" stroke-width="1.1">
<path d="M49,29 C49,22 49.3,17 50.5,14.3 C53,11 57,10 60.8,10 C65,10 69.5,11 71.2,13.5 C72.5,16 72.8,21 72.8,28Z" fill="#fff"/>
<path d="M80.3,21 C80.3,14 80.7,9.5 82,7 C84,4.5 87.5,3.4 91.2,3.4 C95,3.4 98.5,4.5 100.5,7 C101.7,10 102,14 102,19.7Z" fill="#fff"/>
<path d="M2.3,80.3 C6,77 9,75 13,73.8 C17,72.5 21,71.8 24,71.7 L29,72.5 L36,98.8 L40.3,110.7 C30,109.5 22,108 15,105 C10,103 6,100 4,96 C2.8,93 2.3,90 2.3,86Z" fill="#b2b0b2"/>
<path d="M2.3,84.7 C12,89 25,94 36,98.8" fill="none"/>
<path d="M37,34.8 C38,32.5 40,31 42.4,30.5 L72.8,26.2 L104,16.4 C106,16.4 108,17.5 109.6,19.7 C111,21.5 111.8,24 111.8,26.2 L111.8,79.3 L41.3,99.8 C39,99.5 37.5,99.2 36,98.8 C33,97 30.5,94.5 29.4,91.2 C28,86 27.3,80 27.3,73.8 C27.5,68 28.8,63 30.5,58.7 C32.5,53 34,47 35,42 C35.5,39 36,37 37,34.8Z" fill="#b2b0b2"/>
<path d="M46.8,34.8 C44.5,45 43,55 42.4,63 C41.8,75 41.5,86 41.3,95.5" fill="none" stroke-width="0.9"/>
<path d="M108.8,25 C109.5,42 109.8,62 109.6,80" fill="none" stroke-width="0.8"/>
<path d="M47.8,56.5 L76,50 L76,86.8 L47.8,93.3Z" fill="#fff"/>
<path d="M76,50 L106.3,43.5 L107.4,78.2 L76,86.8Z" fill="#fff"/>
<path d="M36,98.8 L40.3,99.8 L40.3,110.7 L36.5,110 C36,106 35.8,102 36,98.8Z" fill="#444"/>
<path d="M38.5,99.5 L110.5,79 C112.5,80.5 113.2,84 112.8,88 C112.5,89.5 111.5,90.5 110,91.3 L39,110.5Z" fill="#fff"/>
<path d="M42,107.5 L76.7,94.5 M58,94.2 L76.7,94.5 M76.7,94.5 L103,81 M76.7,94.5 L108,90" fill="none" stroke-width="0.9"/>
<path d="M54.5,91.8 L67.5,88.6 C70,88 70.6,91.4 68,92 L55,95.2 C52.5,95.8 52,92.4 54.5,91.8Z" fill="#2a2a2a" stroke-width="0.6"/>
<path d="M86.5,83.4 L99.5,79.8 C102,79.2 102.6,82.6 100,83.2 L87,86.8 C84.5,87.4 84,84 86.5,83.4Z" fill="#2a2a2a" stroke-width="0.6"/>
<path d="M60,101 L57.5,110 M80,96 L82.5,101 M94,93 L102,100" fill="none" stroke-width="0.5"/>
</g>
<text x="57.6" y="119.3" text-anchor="middle" font-size="9.5" font-weight="bold" fill="#111" font-family="Liberation Sans">L</text>
<text x="82.5" y="111.8" text-anchor="middle" font-size="9.5" font-weight="bold" fill="#111" font-family="Liberation Sans">G2</text>
<text x="104.5" y="108.8" text-anchor="middle" font-size="9.5" font-weight="bold" fill="#111" font-family="Liberation Sans">L</text>
<circle cx="11.9" cy="10.9" r="6.4" fill="#0a0a0a"/><text x="11.9" y="14.2" text-anchor="middle" font-size="8.8" font-weight="bold" fill="#fff" font-family="Liberation Sans" letter-spacing="-0.9">11</text>
</svg></div>
<div class="pan" id="p12" style="left:703px;top:431px"><svg viewBox="0 0 117 125"><g stroke-linejoin="round" stroke-linecap="round" stroke="#111" stroke-width="1.1">
<path d="M11,28 C11,20 11.3,14 12.3,11 C14,8 18,6.7 21.8,6.7 C26,6.7 31,7.5 32.7,9 C34,12 34.8,18 34.8,27Z" fill="#fff"/>
<path d="M40.3,26 C40.3,19 41,14 42.4,11 C44.5,8.5 48,7.7 52.2,7.7 C56,7.7 60,8.5 62,11 C62.8,14 63,19 63,25.5Z" fill="#fff"/>
<path d="M67.3,25 C67.3,19 68,15 69.5,12 C71.5,10.5 74,10 77,10 C80,10 83,10.5 84.7,11.5 C86,14 86.8,18 86.8,24.5Z" fill="#fff"/>
<path d="M65,25 L89,26.2 C90,27.5 90.8,30 91.2,34.8 C92.5,39 93.5,44 94.4,47.8 C95,51 95.5,54 95.5,56.5 L72.8,67.3 C72,58 70.5,48 69,40 C68,34 66.5,28 65,25Z" fill="#b2b0b2"/>
<path d="M72.8,67.3 L95.5,60.8 C101,62 106,64 110.7,67.3 C112.5,69 113,71 112.8,72.8 L110.7,80.3 C105,85 100,89 95.5,93.3 L93.3,95.5 L93.3,83 C86,78 79,73 72.8,67.3Z" fill="#b2b0b2"/>
<path d="M94.4,83.6 C100,80 106,76 112.8,72.8" fill="none"/>
<path d="M4.5,34.8 C5,31 7.5,28 11,27.3 L63,25 C64.5,27 65.5,29 66.3,30.5 C67.5,36 68.5,42 69.5,47.8 C70.5,53 71.2,58 71.7,63 L71.7,69.5 C80,74 86.5,78.5 93.3,82.5 L93.3,95.5 C80,102 65,110 51,119.3 C44,118 40,116.5 37,115 C28,111 20,107.5 15.3,104 C13,101 11.8,97 11,93.3 C8,90 6.5,87 6,84.7 C5.3,77 5,70 4.8,63 C4.5,53 4.3,43 4.5,34.8Z" fill="#b2b0b2"/>
<path id="g12a" d="M64,25 C65.5,28 66.8,32 67.8,36 C69,42 70,48 70.8,54 C71.5,59 72,63 72.2,68.5" fill="none" stroke-width="3.3"/><path d="M64,25 C65.5,28 66.8,32 67.8,36 C69,42 70,48 70.8,54 C71.5,59 72,63 72.2,68.5" fill="none" stroke="#e2e2e2" stroke-width="1.1"/>
<path d="M7.7,30.5 C9,45 10,55 11,63 C12,72 13.5,82 16.4,91.2" fill="none"/>
<path d="M10.5,92 L16.4,91.2 L71.7,69.5" fill="none"/>
<path d="M16.4,91.5 C24,95 33,98.5 41.3,102 C45,104 48.5,106 51,107.4 L93.3,83.6 M51,107.4 L51,119.3" fill="none"/>
<path d="M72.2,68.5 C80,73 86.5,77.5 92,80.8 C93.5,81.8 93.9,83 93.9,85 L93.9,95" fill="none" stroke-width="3.3"/><path d="M72.2,68.5 C80,73 86.5,77.5 92,80.8 C93.5,81.8 93.9,83 93.9,85 L93.9,95" fill="none" stroke="#e2e2e2" stroke-width="1.1"/>
<ellipse cx="50" cy="81.4" rx="2.8" ry="1.9" fill="#ddd" stroke-width="0.9"/>
</g>
<circle cx="12.3" cy="11.0" r="6.4" fill="#0a0a0a"/><text x="12.3" y="14.3" text-anchor="middle" font-size="8.8" font-weight="bold" fill="#fff" font-family="Liberation Sans" letter-spacing="-0.9">12</text>
</svg></div>
</body></html>
